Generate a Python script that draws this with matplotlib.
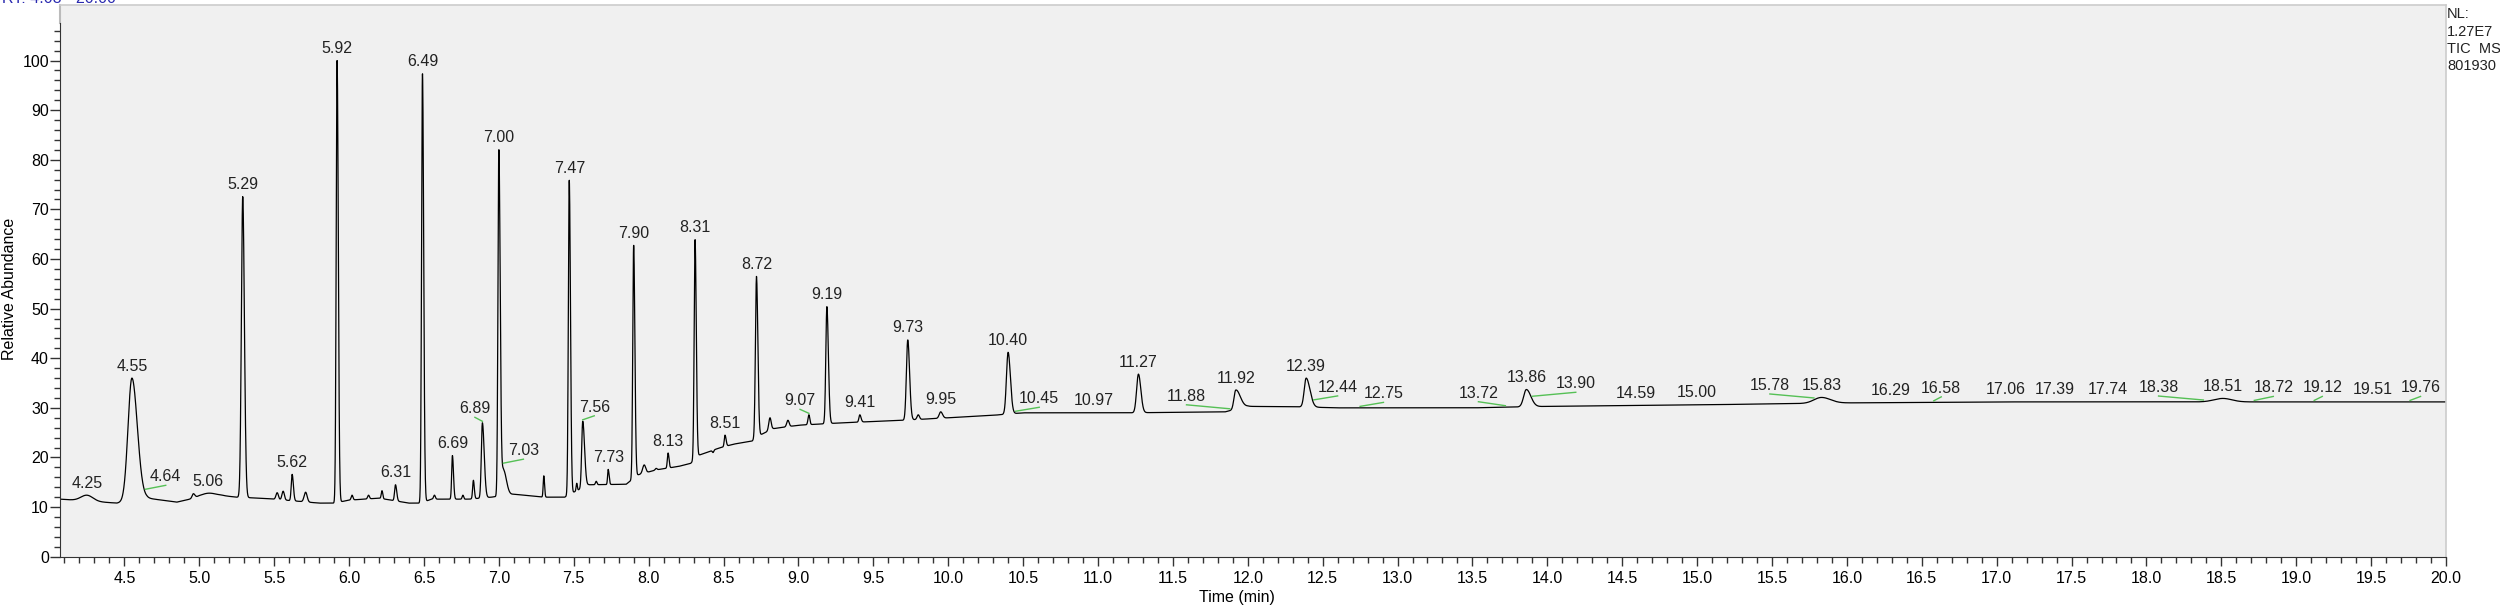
import numpy as np
import matplotlib
matplotlib.use("Agg")
import matplotlib.pyplot as plt
from matplotlib.ticker import MultipleLocator, FixedLocator, FormatStrFormatter

plt.rcParams['font.family'] = ['Liberation Sans', 'DejaVu Sans']

# baseline of the TIC trace (time in min, relative abundance)
base_t = [4.07, 4.45, 4.65, 4.85, 5.0, 5.15, 5.25, 5.4, 5.5, 5.8, 5.9, 6.0, 6.2,
          6.4, 6.48, 6.55, 6.8, 6.95, 7.1, 7.3, 7.44, 7.5, 7.6, 7.85, 7.93, 8.05,
          8.2, 8.28, 8.34, 8.47, 8.57, 8.69, 8.75, 8.83, 9.0, 9.3, 9.7, 10.0,
          10.3, 10.5, 11.2, 11.85, 12.0, 12.35, 12.6, 13.5, 14.0, 15.0, 16.0,
          17.0, 20.0]
base_v = [11.6, 10.8, 11.8, 11.0, 12.0, 12.3, 12.0, 11.8, 11.6, 10.8, 10.8, 11.4,
          11.8, 10.8, 10.8, 11.6, 11.6, 12.0, 12.6, 12.0, 12.0, 13.0, 14.5, 14.6,
          16.5, 17.5, 18.2, 18.8, 20.5, 21.9, 22.7, 23.3, 24.6, 25.8, 26.5, 27.0,
          27.5, 28.0, 28.5, 29.0, 29.0, 29.2, 30.3, 30.2, 30.0, 30.0, 30.3, 30.6,
          31.0, 31.2, 31.2]

# peaks: retention time, apex abundance, left / right half width (min)
peak_rt = [4.55, 5.29, 5.62, 5.92, 6.31, 6.49, 6.69, 6.83, 6.89, 7.00, 7.03,
           7.30, 7.47, 7.56, 7.73, 7.90, 8.13, 8.31, 8.51, 8.72, 9.07, 9.19,
           9.41, 9.73, 9.95, 10.40, 11.27, 11.92, 12.39, 13.86, 15.83, 18.51,
           4.25, 4.96, 5.06, 5.52, 5.56, 5.71, 6.02, 6.13, 6.22, 6.57, 6.76,
           7.52, 7.65, 7.97, 8.05, 8.43, 8.81, 8.93, 9.80]
peak_top = [36.0, 72.6, 16.6, 100.0, 14.5, 97.5, 20.4, 15.4, 27.0, 82.0, 17.5,
            16.3, 75.9, 27.3, 17.6, 62.8, 20.9, 64.0, 24.5, 56.5, 28.6, 50.4,
            28.6, 43.7, 29.2, 41.2, 36.8, 33.6, 36.0, 33.7, 32.1, 31.9,
            12.4, 12.6, 12.8, 12.9, 13.2, 13.0, 12.4, 12.4, 13.3, 12.4, 12.4,
            14.8, 15.2, 18.5, 17.8, 21.0, 28.0, 27.5, 28.6]
peak_wl = [0.026, 0.009, 0.006, 0.006, 0.006, 0.006, 0.005, 0.005, 0.007, 0.006,
           0.010, 0.004, 0.006, 0.007, 0.004, 0.006, 0.005, 0.006, 0.005, 0.007,
           0.006, 0.007, 0.006, 0.009, 0.010, 0.011, 0.012, 0.012, 0.013, 0.018,
           0.050, 0.060,
           0.040, 0.008, 0.050, 0.008, 0.008, 0.010, 0.006, 0.006, 0.005, 0.006,
           0.005, 0.004, 0.005, 0.010, 0.006, 0.005, 0.008, 0.008, 0.008]
peak_wr = [0.036, 0.011, 0.008, 0.008, 0.008, 0.008, 0.007, 0.006, 0.012, 0.009,
           0.020, 0.005, 0.008, 0.012, 0.006, 0.008, 0.006, 0.008, 0.007, 0.009,
           0.006, 0.010, 0.008, 0.012, 0.012, 0.015, 0.016, 0.030, 0.025, 0.030,
           0.060, 0.060,
           0.040, 0.010, 0.050, 0.008, 0.008, 0.010, 0.006, 0.006, 0.005, 0.006,
           0.005, 0.004, 0.005, 0.010, 0.006, 0.005, 0.008, 0.008, 0.008]

# retention-time labels written on the trace
label_rt = [4.25, 4.55, 4.64, 5.06, 5.29, 5.62, 5.92, 6.31, 6.49, 6.69, 6.89,
            7.00, 7.03, 7.47, 7.56, 7.73, 7.90, 8.13, 8.31, 8.51, 8.72, 9.07,
            9.19, 9.41, 9.73, 9.95, 10.40, 10.45, 10.97, 11.27, 11.88, 11.92,
            12.39, 12.44, 12.75, 13.72, 13.86, 13.90, 14.59, 15.00, 15.78,
            15.83, 16.29, 16.58, 17.06, 17.39, 17.74, 18.38, 18.51, 18.72,
            19.12, 19.51, 19.76]
# labels pushed sideways (joined to the trace by a green line)
label_shift = {4.64: 4.776, 6.89: 6.84, 7.03: 7.164, 7.56: 7.637, 9.07: 9.011,
               10.45: 10.608, 11.88: 11.591, 12.44: 12.60, 12.75: 12.906,
               13.72: 13.54, 13.90: 14.19, 15.78: 15.486, 16.58: 16.63,
               18.38: 18.081, 18.72: 18.847, 19.12: 19.174, 19.76: 19.83}

header = 'RT: 4.08 - 20.00'
info_lines = ['NL:', '1.27E7', 'TIC  MS', '801930']

t = np.linspace(4.07, 20.0, 16000)
trace = np.interp(t, base_t, base_v)
for rt, top, wl, wr in zip(peak_rt, peak_top, peak_wl, peak_wr):
    amp = top - np.interp(rt, base_t, base_v)
    w = np.where(t < rt, wl, wr)
    trace = trace + amp * np.exp(-0.5 * ((t - rt) / w) ** 2)

fig = plt.figure(figsize=(25, 6.07), dpi=100)
ax = fig.add_axes([60 / 2500, 50.3 / 607, 2386 / 2500, 551.7 / 607])
ax.set_facecolor('#f0f0f0')
ax.plot(t, trace, color='black', lw=0.9)

for rt in label_rt:
    near = np.abs(t - rt) <= 0.006
    y = trace[near].max()
    lx = label_shift.get(rt, rt)
    ly = y + 0.9
    if rt in label_shift:
        ly = y + 1.3
        ax.plot([rt, lx], [y + 0.3, ly - 0.2], color='#55c055', lw=1.0)
    ax.text(lx, ly, '%.2f' % rt, ha='center', va='bottom', fontsize=11.5,
            color='#222222')

ax.set_xlim(4.07, 20.0)
ax.set_ylim(0, 111.2)
ax.xaxis.set_major_locator(MultipleLocator(0.5))
ax.xaxis.set_minor_locator(MultipleLocator(0.1))
ax.xaxis.set_major_formatter(FormatStrFormatter('%.1f'))
ax.yaxis.set_major_locator(FixedLocator(range(0, 101, 10)))
ax.yaxis.set_minor_locator(FixedLocator(range(0, 107, 2)))
ax.tick_params(axis='x', which='major', length=6.5, width=1.0, pad=4,
               labelsize=11.5, color='#333333')
ax.tick_params(axis='x', which='minor', length=4, width=1.0, color='#333333')
ax.tick_params(axis='y', which='major', length=7, width=1.0, pad=1,
               labelsize=11.5, color='#333333')
ax.tick_params(axis='y', which='minor', length=4.5, width=1.0, color='#333333')

ax.spines['left'].set_bounds(0, 107.5)
ax.spines['left'].set_color('#333333')
ax.spines['bottom'].set_color('#333333')
for side in ['top', 'right']:
    ax.spines[side].set_color('#cccccc')
    ax.spines[side].set_linewidth(1.2)
ax.plot([4.07, 4.07], [107.5, 111.2], color='#bbbbbb', lw=1.5, clip_on=False)

ax.set_xlabel('Time (min)', fontsize=11.5)
ax.xaxis.set_label_coords(0.4933, -0.074)
ax.xaxis.label.set_va('center')
ax.set_ylabel('Relative Abundance', fontsize=11.5)
ax.yaxis.set_label_coords(-50 / 2386, 0.486)
ax.yaxis.label.set_va('center')

# run header, cut by the top edge as in the instrument export
fig.text(2 / 2500, 1 - 3 / 607, header, color='#2a2ab0',
         fontsize=11.5, va='baseline')
for i, s in enumerate(info_lines):
    fig.text(2447 / 2500, 1 - (18 + 17.5 * i) / 607, s, fontsize=10.5,
             va='baseline', color='#222222')

fig.savefig('out.png', dpi=100)
